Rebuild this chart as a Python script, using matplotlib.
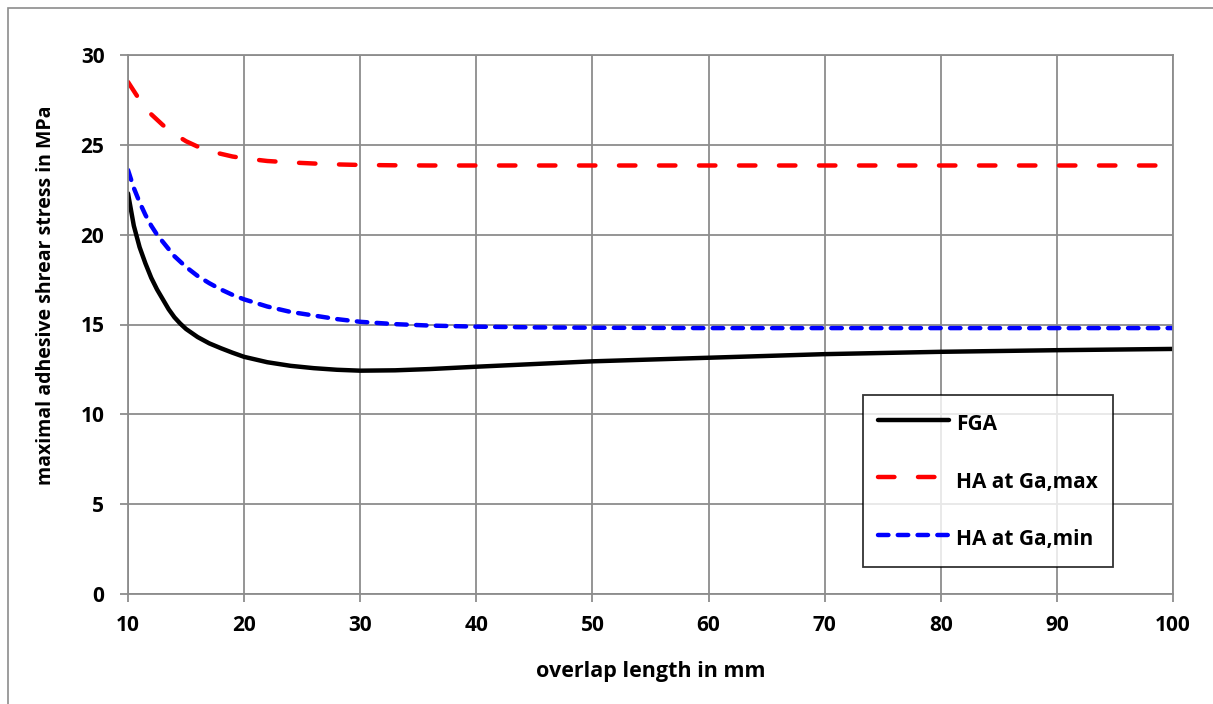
import numpy as np
import matplotlib
matplotlib.use("Agg")
import matplotlib.pyplot as plt
from matplotlib.patches import Rectangle

# overlap length in mm and max adhesive shear stress in MPa
x_fga = [10, 10.5, 11, 11.5, 12, 12.5, 13, 13.5, 14, 14.5, 15, 16, 17, 18, 19, 20, 22, 24, 26,
         28, 30, 33, 36, 40, 50, 60, 70, 80, 90, 100]
y_fga = [22.3, 20.5, 19.3, 18.4, 17.6, 16.95, 16.4, 15.85, 15.4, 15.05, 14.75, 14.3, 13.95,
         13.68, 13.43, 13.2, 12.9, 12.7, 12.57, 12.48, 12.43, 12.45, 12.52, 12.65, 12.95, 13.15,
         13.35, 13.48, 13.57, 13.64]

x_ha = [10, 10.5, 11, 11.5, 12, 12.5, 13, 14, 15, 16, 17, 18, 19, 20, 22, 24, 26, 28, 30, 33,
        36, 40, 45, 50, 60, 70, 80, 90, 100]
y_ha_max = [28.5, 28.0, 27.5, 27.1, 26.7, 26.4, 26.1, 25.6, 25.2, 24.9, 24.65, 24.5, 24.35,
            24.25, 24.1, 24.02, 23.96, 23.91, 23.88, 23.86, 23.85, 23.85, 23.85, 23.85, 23.85,
            23.85, 23.85, 23.85, 23.85]
y_ha_min = [23.6, 22.6, 21.8, 21.1, 20.5, 20.0, 19.6, 18.8, 18.2, 17.7, 17.3, 16.95, 16.65,
            16.4, 16.0, 15.7, 15.5, 15.3, 15.15, 15.02, 14.94, 14.88, 14.84, 14.82, 14.8, 14.8,
            14.8, 14.8, 14.8]

plt.rcParams['font.family'] = ['Open Sans', 'DejaVu Sans']

W, H = 1213, 704
fig = plt.figure(figsize=(W / 100, H / 100), dpi=100)
ax = fig.add_axes([128 / W, 1 - 594 / H, (1173 - 128) / W, (594 - 55) / H])

# outer chart frame (only top and left edges visible)
fig.patches.append(Rectangle((8 / W, -0.1), 1.2, 1 - 8 / H + 0.1, transform=fig.transFigure,
                             fill=False, edgecolor='#8c8c8c', linewidth=1.2))

lw = 3.2
ax.plot(x_fga, y_fga, color='black', lw=lw, solid_capstyle='round',
        solid_joinstyle='round', label='FGA')
ax.plot(x_ha, y_ha_max, color='#ff0000', lw=lw, ls=(0, (3.7, 5.3)),
        dash_capstyle='round', dash_joinstyle='round', label='HA at Ga,max')
ax.plot(x_ha, y_ha_min, color='#0000ff', lw=lw, ls=(0, (2.35, 2.1)),
        dash_capstyle='round', dash_joinstyle='round', label='HA at Ga,min')

ax.set_xlim(10, 100)
ax.set_ylim(0, 30)
ax.set_xticks(np.arange(10, 101, 10))
ax.set_yticks(np.arange(0, 31, 5))
ax.grid(True, color='#8c8c8c', lw=1.3)
ax.set_axisbelow(True)
for s in ax.spines.values():
    s.set_color('#8c8c8c')
    s.set_linewidth(1.3)
ax.tick_params(direction='out', length=6, width=1.3, color='#8c8c8c', labelsize=15)
ax.tick_params(axis='x', pad=9)
ax.tick_params(axis='y', pad=11)
for t in ax.get_xticklabels() + ax.get_yticklabels():
    t.set_fontweight('bold')

ax.set_xlabel('overlap length in mm', fontsize=15.5, fontweight='bold')
ax.set_ylabel('maximal adhesive shrear stress in MPa', fontsize=14, fontweight='bold')
ax.xaxis.set_label_coords(0.5, (594 - 661) / (594 - 55))
ax.yaxis.set_label_coords((56 - 128) / (1173 - 128), (594 - 295) / (594 - 55))

leg = ax.legend(loc='upper left', bbox_to_anchor=((863 - 128) / (1173 - 128), (594 - 395) / (594 - 55)),
                prop={'size': 15, 'weight': 'bold'}, frameon=True, fancybox=False,
                edgecolor='black', handlelength=3.45, handleheight=1.7, labelspacing=1.4,
                borderpad=0.7, handletextpad=0.33, borderaxespad=0)
leg.get_frame().set_linewidth(1.3)

fig.savefig('out.png', dpi=100)
